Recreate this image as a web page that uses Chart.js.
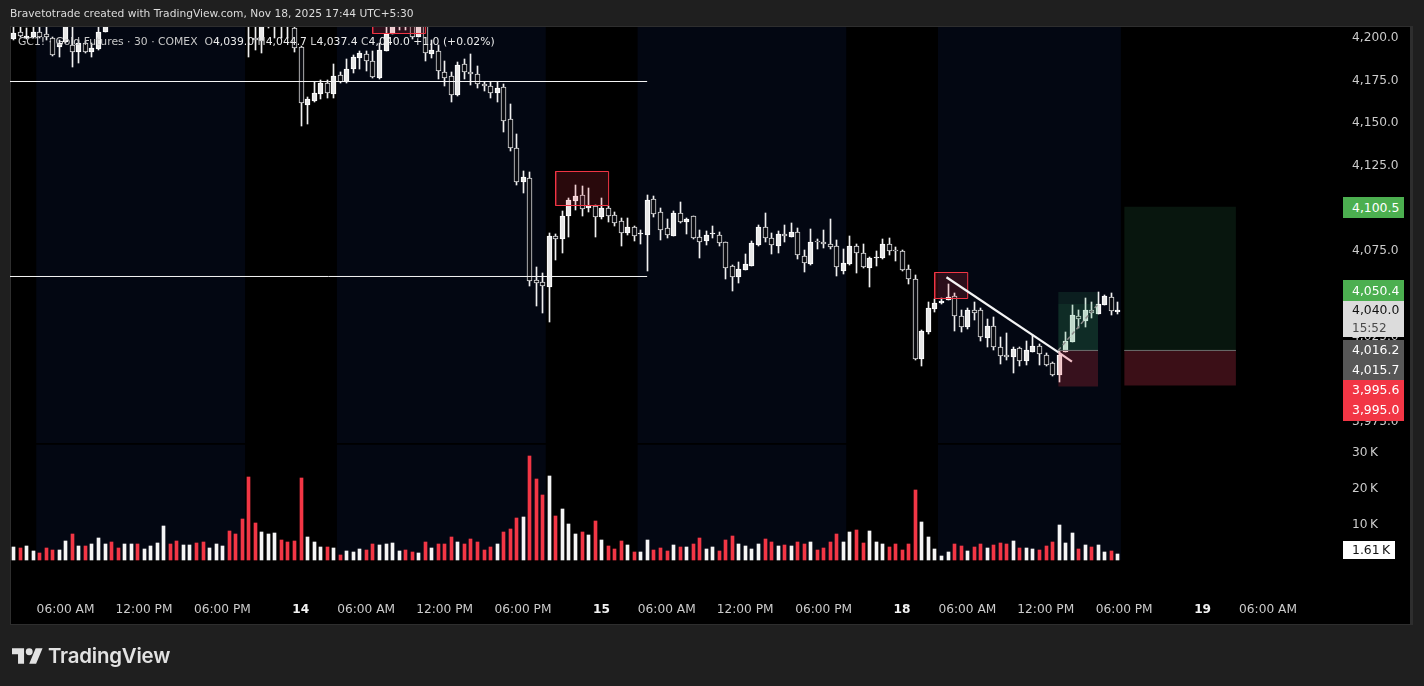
<!DOCTYPE html>
<html><head><meta charset="utf-8">
<script src="https://cdn.jsdelivr.net/npm/chart.js@4"></script>
<style>
html,body{margin:0;padding:0;width:1424px;height:686px;overflow:hidden;background:#1f1f1f;font-family:"DejaVu Sans",sans-serif}
#panel{position:absolute;left:10px;top:26px;width:1403px;height:599px;box-sizing:border-box;background:#000;border:1px solid #2e2e2e;border-right-width:3px}
#wrap{position:absolute;left:0;top:0;width:1424px;height:686px}
.t{position:absolute;white-space:nowrap}
#head{left:10px;top:7px;font-size:10.68px;line-height:14px;color:#dcdcdc}
#ribbon{left:18px;top:35px;font-size:10.8px;line-height:14px;color:#c8c8c8}
#ribbon b{font-weight:400;color:#ececec}
.tag{position:absolute;left:1343px;width:61px;box-sizing:border-box;padding-left:9px;font-size:12.4px;white-space:nowrap;color:#fff}
#brand{left:48px;top:643px;font:600 20.4px/26px Inter,sans-serif;color:#e2e2e2;letter-spacing:-.2px}
svg{position:absolute;left:12px;top:648px}
</style></head><body>
<div id="panel"></div>
<div id="wrap"><canvas id="c" width="1424" height="686"></canvas></div>
<div class="t" id="head">Bravetotrade created with TradingView.com, Nov 18, 2025 17:44 UTC+5:30</div>
<div class="t" id="ribbon">GC1! · Gold Futures · 30 · COMEX&nbsp; O<b>4,039.0</b> H<b>4,044.7</b> L<b>4,037.4</b> C<b>4,040.0</b> <b>+1.0 (+0.02%)</b></div>
<div class="tag" style="top:197px;height:21px;line-height:21px;background:#4caf50">4,100.5</div>
<div class="tag" style="top:280px;height:21px;line-height:21px;background:#4caf50">4,050.4</div>
<div class="tag" style="top:301px;height:36px;line-height:18px;background:#dcdcdc;color:#131313">4,040.0<br><span style="color:#4a4a4a;font-size:12px">15:52</span></div>
<div class="tag" style="top:340px;height:40px;line-height:20px;background:#575757">4,016.2<br>4,015.7</div>
<div class="tag" style="top:380px;height:41px;line-height:20px;background:#f23645">3,995.6<br>3,995.0</div>
<div class="tag" style="top:541px;height:18px;line-height:18px;width:52px;background:#fff;color:#131313">1.61&#8239;K</div>
<svg width="31" height="16" viewBox="0 4 36 18"><path fill="#e2e2e2" d="M14 22H7V11H0V4h14v18zM28 22h-8l7.5-18h8L28 22z"/><circle fill="#e2e2e2" cx="20" cy="8" r="4"/></svg>
<div class="t" id="brand">TradingView</div>
<script>
const N15 = Array(21).fill(null);
const opens = [4198.8,4202.9,4199.4,4200.0,4202.9,4201.8,4199.4,4194.1,4197.1,4195.3,4191.2,4196.5,4191.2,4193.0,4202.9,...N15,
4215,4199.4,4197.7,4207,4207,4210,4210,4205.3,4194.1,4160.1,4162.5,4166.6,4173.0,4166.6,
4177.7,4173.6,4181.2,4187.7,4190.0,4185.9,4176.0,4191.8,4201.8,4209,
4212,4209,4200.0,4207.5,4190.0,4191.8,4179.5,4177.1,4166.0,4184.2,
4179.5,4178.3,4172.4,4171.3,4167.2,4170.7,4151.9,4134.9,4115.0,4117.3,
4057.5,4056.3,4053.4,4083.3,4081.5,4095.0,4103.8,4107.3,4099.7,4100.9,
4094.4,4099.7,4095.6,4092.1,4085.0,4088.6,4084.2,4083.9,4105.0,4097.4,
4088.0,4083.3,4096.8,4091.5,4095.0,4082.7,4080.4,4084.2,4083.9,4079.8,
4065.7,4059.2,4063.4,4065.7,4078.0,4088.6,4082.1,4077.4,4084.4,4082.7,
4085.6,4071.6,4066.9,4080.0,4079.8,4078.6,4077.4,4063.0,4066.9,4077.4,
4073.3,4064.5,4070.2,4070.4,4078.6,4074.7,4074.5,4063.9,4058.1,4011.1,
4027.0,4040.5,4044.3,4045.8,4048.1,4036.4,4029.9,4039.9,4039.9,4023.5,
4030.5,4018.2,4013.5,4012.3,4017.6,4010.0,4015.3,4018.8,4013.5,4008.8,
4001.8,4015.3,4021.1,4036.4,4033.4,4039.9,4037.5,4042.8,4047.5,4039.0];
const closes = [4202.3,4200.6,4200.6,4202.9,4200.0,4200.0,4189.4,4196.5,4210,4191.2,4196.5,4191.2,4193.5,4202.9,4208,...N15,
4210,4198.2,4208,4212,4210,4207,4207,4193.5,4161.3,4163.6,4167.2,4173.0,4167.2,4177.1,
4173.6,4181.2,4188.3,4190.6,4185.9,4176.5,4192.4,4201.8,4208,4212,
4209,4200.0,4209,4190.6,4192.4,4180.1,4176.0,4166.0,4183.6,4179.5,
4178.3,4172.4,4171.3,4167.2,4170.1,4150.7,4134.9,4115.0,4117.9,4056.9,
4055.7,4054.0,4083.3,4081.5,4095.0,4104.4,4106.7,4099.1,4100.9,4094.4,
4099.7,4095.0,4090.9,4085.0,4088.6,4083.3,4084.6,4104.4,4096.2,4086.8,
4083.9,4096.8,4091.5,4093.3,4082.1,4079.8,4083.9,4084.6,4079.2,4064.5,
4059.2,4063.9,4066.9,4079.2,4088.6,4082.1,4078.0,4084.4,4083.3,4085.6,
4072.1,4067.4,4079.8,4079.6,4078.6,4076.8,4065.1,4067.4,4077.4,4073.3,
4065.1,4070.4,4070.8,4078.6,4074.5,4074.3,4063.4,4058.1,4011.1,4027.6,
4041.1,4044.0,4045.2,4047.5,4036.4,4029.9,4039.9,4038.1,4024.1,4030.5,
4018.2,4012.9,4012.3,4017.0,4010.0,4016.4,4018.8,4014.1,4007.6,4001.8,
4013.5,4021.7,4037.0,4034.6,4039.9,4038.1,4043.4,4048.1,4039.3,4040.0];
const highs = [4206.5,4207,4205.3,4207,4206,4207,4200.0,4198.2,4212,4206.5,4198.0,4197.5,4196.5,4206.5,4209,...N15,
4216,4208,4210,4213,4212,4212,4212,4207.5,4195.0,4164.8,4173.6,4174.8,4174.8,4184.2,
4179.5,4187.1,4189.4,4191.8,4191.8,4191.8,4196.5,4206.5,4209,4213,
4213,4210,4210,4209,4198.2,4195.3,4185.9,4179.5,4185.3,4187.1,
4190.0,4183.0,4173.6,4173.6,4173.6,4172.4,4160.7,4143.1,4121.4,4120.8,
4065.1,4061.6,4085.0,4084.4,4097.9,4105.6,4113.2,4112.6,4111.4,4101.5,
4105.6,4100.9,4097.4,4093.8,4093.8,4089.0,4086.8,4107.3,4106.7,4099.7,
4093.3,4097.9,4103.2,4093.8,4095.0,4086.8,4086.2,4089.2,4085.6,4080.0,
4066.3,4068.0,4072.7,4080.4,4089.7,4096.8,4085.0,4086.2,4089.7,4090.9,
4088.0,4075.1,4087.4,4081.5,4086.8,4093.3,4081.0,4075.7,4083.3,4078.6,
4078.6,4070.8,4074.5,4081.5,4082.1,4076.8,4075.0,4066.3,4060.4,4028.2,
4044.6,4046.3,4046.9,4055.1,4049.9,4039.9,4041.1,4044.6,4041.1,4034.6,
4035.8,4024.1,4026.4,4018.2,4018.2,4021.7,4025.2,4020.0,4014.7,4009.4,
4015.8,4027.0,4042.8,4039.9,4046.9,4044.6,4050.4,4048.7,4049.9,4044.7];
const lows = [4198.5,4200.0,4199.0,4199.4,4199.4,4198.2,4189.0,4188.3,4196.5,4182.4,4184.8,4190.6,4188.3,4192.4,4202.9,...N15,
4188.3,4192.4,4190.6,4205.3,4199.4,4199.4,4199.4,4191.2,4147.8,4149.0,4161.9,4163.6,4164.2,4164.2,
4173.0,4173.0,4178.9,4181.2,4180.1,4176.0,4175.4,4191.8,4201.8,4204.1,
4204.1,4198.8,4200.0,4185.9,4187.7,4175.4,4171.3,4161.9,4165.4,4175.4,
4171.8,4170.1,4168.3,4164.2,4161.9,4144.3,4133.1,4113.2,4108.5,4054.0,
4042.2,4038.1,4032.9,4069.2,4073.3,4082.7,4098.5,4095.0,4097.4,4082.7,
4093.3,4091.5,4089.2,4077.4,4083.9,4080.4,4078.6,4062.8,4094.4,4081.0,
4082.1,4083.3,4090.9,4084.4,4081.5,4070.4,4078.0,4082.1,4077.4,4058.1,
4051.0,4055.7,4063.4,4065.7,4077.4,4079.8,4072.7,4073.3,4079.8,4082.7,
4069.8,4062.2,4066.3,4075.7,4076.2,4075.7,4059.8,4061.0,4066.3,4061.6,
4064.5,4053.4,4065.7,4070.0,4072.1,4068.6,4063.0,4055.1,4010.6,4007.0,
4025.8,4038.7,4043.4,4045.8,4027.6,4027.0,4028.7,4034.0,4021.7,4018.2,
4016.4,4008.2,4010.6,4002.9,4007.0,4007.6,4015.3,4007.6,4007.3,4001.2,
3997.7,4015.0,4021.0,4029.3,4029.9,4035.2,4037.3,4042.6,4036.9,4037.4];
const volumes = [3610,3330,3890,2500,1940,3330,2780,2780,5280,7220,
3890,3890,4440,6110,4440,5000,3330,4440,4440,4440,
3060,3890,4720,9440,4440,5280,4170,4170,4720,5000,
3330,4440,3890,8060,7220,11390,23060,10280,7780,7220,
7500,5560,5000,5280,22780,6390,5000,3610,3610,3330,
1390,2500,2220,3060,2780,4440,4170,4440,4720,2500,
2780,2220,1940,5000,3330,4440,4440,6390,5000,4440,
5830,5000,2780,3610,4440,7780,8610,11670,11940,28890,
22500,18060,23330,12220,14170,10000,7220,7780,6940,10830,
5560,3890,3060,5280,4170,2220,2220,5560,2780,3330,
2500,4170,3610,3610,4440,6110,3060,3610,2500,5560,
6670,4440,3890,3060,4440,5830,5000,3890,4170,3890,
5000,4440,5000,2780,3330,5000,7220,5000,7780,8330,
4720,8060,5000,4440,3610,4440,2780,4440,19440,10560,
6390,3060,1110,2220,4440,3890,2500,3610,4440,3330,
4170,4720,4440,5280,3330,3330,3060,2780,3890,5000,
9720,4720,7500,3060,4170,3610,4170,2220,2500,1610];
const barSides = ("WRWWRRRWWR"+"WRWWWRRWWR"+"WWWWRRWWRR"+"WWWRRRRRWW"+"WRRRRWWWRW"+"RWWWRRWWWW"+"RRWRWRRRWR"+"RRRRWRRRWR"+"RRWRWWWRWR"+"WRRRWRWWRR"+"RWRWRRWWRR"+"RWWWWRRWRW"+"RRWRRRRWWR"+"RWWWRRRRRW"+"WWWWRRWRRW"+"RRRWRWWRRR"+"WWWRWRWWRW").split("");
const priceTicks = [4200,4175,4150,4125,4100,4075,4050,4025,4000,3975];
const volumeTicks = [10000,20000,30000];
const timeTickBars = [8,20,32,44,54,66,78,90,100,112,124,136,146,158,170,182,192];
const timeTickLabels = ["06:00 AM","12:00 PM","06:00 PM","14","06:00 AM","12:00 PM","06:00 PM","15","06:00 AM","12:00 PM","06:00 PM","18","06:00 AM","12:00 PM","06:00 PM","19","06:00 AM"];
const sessionStart = [3.5,49.5,95.5,141.5];
const sessionEnd = [35.5,81.5,127.5,169.5];
const levelPrices = [4173.93,4059.56];
const levelEndBar = 97;
const supplyZones = [[83.0,91.1,4101.2,4121.15],[141.0,146.05,4046.65,4061.9],[55.0,63.1,4202.09,4225]];
const trendBars = [142.8,159.95];
const trendPrices = [4059.1,4015.1];
const trendTailBars = [159.95,162];
const trendTailPrices = [4015.1,4009.6];
const longEntry = [159.9,166];
const longPrices = {target:4050.4,inner:4043.4,entry:4016.2,stop:3995.0};
const planBars = [170,187.1];
const planPrices = {target:4100.5,entry:4016.2,stop:3995.6};

const priceMax = 4205.9, priceMin = 3961.9, volMax = 32500, volMin = -8333, firstBar = -0.5, lastBar = 199.35;

const RED = "#f23645";
const bars = opens.map((_, i) => i);
function fillBox(x0, x1, lo, hi, color, order, yAxisID) {
  return {type:"line", yAxisID:yAxisID||"y", data:[{x:x0,y:hi},{x:x1,y:hi}], fill:{value:lo}, backgroundColor:color,
    borderWidth:0, borderColor:"transparent", pointRadius:0, order};
}
function path(xs, ys, color, width, order, dash) {
  return {type:"line", yAxisID:"y", data:xs.map((x,i)=>({x,y:ys[i]})), fill:false, borderColor:color, borderWidth:width,
    borderDash:dash||[], pointRadius:0, order, tension:0};
}
const datasets = [];
sessionStart.forEach((s, k) => {
  datasets.push(fillBox(s, sessionEnd[k], priceMin, priceMax, "#030712", 100));
  datasets.push(fillBox(s, sessionEnd[k], 0, 32000, "#030712", 100, "v"));
});
datasets.push({type:"bar", yAxisID:"v", data:volumes.map((v,i)=>({x:i,y:v})), barThickness:3, grouped:false,
  backgroundColor:barSides.map(s=>s==="R"?RED:"#f5f5f5"), borderWidth:0, order:60});
const live = bars.filter(i=>opens[i]!==null);
datasets.push({type:"bar", yAxisID:"y", data:live.map(i=>({x:i,y:[lows[i],highs[i]]})), barThickness:1, grouped:false,
  backgroundColor:"#f0f0f0", borderWidth:0, order:50});
datasets.push({type:"bar", yAxisID:"y", data:live.map(i=>({x:i,y:[opens[i],closes[i]]})), barThickness:5, grouped:false,
  backgroundColor:live.map(i=>barSides[i]==="W"?"#e8e8e8":"#0a0b10"), borderColor:live.map(i=>barSides[i]==="W"?"#ffffff":"#dcdcdc"),
  borderWidth:1, borderSkipped:false, minBarLength:1, order:49});
levelPrices.forEach(p=>datasets.push(path([firstBar,levelEndBar],[p,p],"#f5f5f5",1,45)));
supplyZones.forEach(z=>{
  datasets.push(fillBox(z[0],z[1],z[2],z[3],"rgba(242,54,69,0.17)",30));
  datasets.push(path([z[0],z[1],z[1],z[0],z[0]],[z[2],z[2],z[3],z[3],z[2]],RED,1,29));
});
datasets.push(fillBox(longEntry[0],longEntry[1],longPrices.entry,longPrices.target,"rgba(60,170,110,0.15)",30));
datasets.push(fillBox(longEntry[0],longEntry[1],longPrices.entry,longPrices.inner,"rgba(60,170,110,0.10)",30));
datasets.push(fillBox(longEntry[0],longEntry[1],longPrices.stop,longPrices.entry,"rgba(242,54,69,0.22)",30));
datasets.push(path(longEntry,[longPrices.entry,longPrices.entry],"#6e6e6e",1,28));
datasets.push(path(longEntry,[longPrices.entry,longPrices.inner],"#8a8a8a",1.5,27,[4,3]));
datasets.push(fillBox(planBars[0],planBars[1],planPrices.entry,planPrices.target,"#08160e",30));
datasets.push(fillBox(planBars[0],planBars[1],planPrices.stop,planPrices.entry,"#3b0f17",30));
datasets.push(path(planBars,[planPrices.entry,planPrices.entry],"#6e6e6e",1,28));
datasets.push(path(trendBars,trendPrices,"#f4f4f4",2.2,20));
datasets.push(path(trendTailBars,trendTailPrices,"#f3c4cb",2.2,20));

const crispBars = {id:"crispBars", beforeDatasetsDraw(chart){
  chart.data.datasets.forEach((d,idx)=>{
    if(d.type!=="bar") return;
    chart.getDatasetMeta(idx).data.forEach(el=>{
      el.x = Math.floor(el.x+0.25)+0.5;
      el.y = Math.round(el.y); el.base = Math.round(el.base);
      if(el.y===el.base) el.base = el.y+1;
    });
  });
}};
const tickFont = {family:"'DejaVu Sans'", size:12.2};
const fitY = s => { s.width = 85; s.paddingTop = 0; s.paddingBottom = 0; };
new Chart(document.getElementById("c"), {
  data:{datasets},
  plugins:[crispBars],
  options:{
    responsive:false, animation:false, devicePixelRatio:1,
    layout:{padding:{left:10,top:27,right:23,bottom:61}},
    plugins:{legend:{display:false},tooltip:{enabled:false}},
    events:[],
    scales:{
      x:{type:"linear",min:firstBar,max:lastBar,offset:false,
        grid:{display:false},border:{display:false},
        afterBuildTicks:s=>{s.ticks=timeTickBars.map(value=>({value}));},
        afterFit:s=>{s.height=35;s.paddingLeft=0;s.paddingRight=0;},
        ticks:{color:c=>timeTickLabels[c.index].length<3?"#f2f2f2":"#cccccc",padding:5,autoSkip:false,maxRotation:0,
          font:c=>({family:"'DejaVu Sans'",size:12.2,weight:timeTickLabels[c.index]&&timeTickLabels[c.index].length<3?"bold":"normal"}),
          callback:(v,i)=>timeTickLabels[i]}
      },
      y:{type:"linear",position:"right",stack:"right",stackWeight:416,min:priceMin,max:priceMax,
        grid:{display:false},border:{display:false},
        afterBuildTicks:s=>{s.ticks=priceTicks.map(value=>({value}));},
        afterFit:fitY,
        ticks:{color:"#cccccc",font:tickFont,padding:28,labelOffset:1,autoSkip:false,
          callback:v=>v.toLocaleString("en-US",{minimumFractionDigits:1,maximumFractionDigits:1})}
      },
      v:{type:"linear",position:"right",stack:"right",stackWeight:147,min:volMin,max:volMax,
        grid:{display:false},border:{display:false},
        afterBuildTicks:s=>{s.ticks=volumeTicks.map(value=>({value}));},
        afterFit:fitY,
        ticks:{color:"#cccccc",font:tickFont,padding:28,labelOffset:1,autoSkip:false,callback:v=>(v/1000)+"\u202fK"}
      }
    }
  }
});
</script>
</body></html>
